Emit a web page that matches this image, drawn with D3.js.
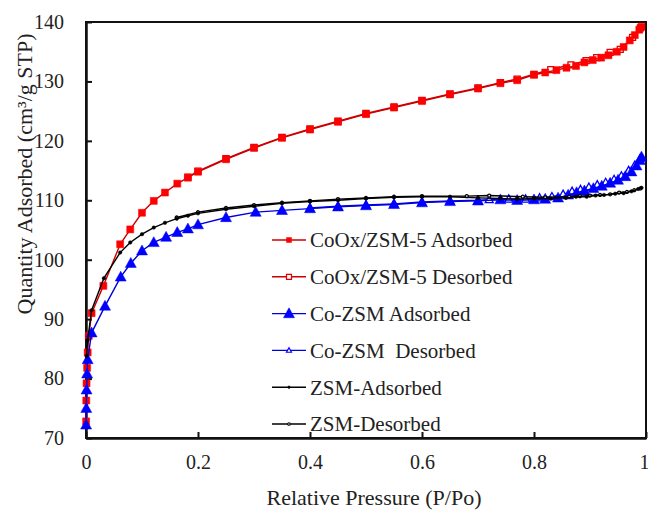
<!DOCTYPE html>
<html>
<head>
<meta charset="utf-8">
<script src="https://cdn.jsdelivr.net/npm/d3@7"></script>
<style>
    body { margin: 0; background: #fff; }
</style>
</head>
<body>
<div id="chart"></div>
<script>
// CoOx/ZSM-5, Co-ZSM and ZSM isotherms, [P/Po, quantity]
var coAds = [[0.0002,72.8],[0.0005,76.3],[0.001,79.2],[0.002,81.8],[0.003,84.4],[0.005,87.2],[0.01,91.0],[0.031,95.6],[0.061,102.6],[0.079,105.1],[0.10,107.9],[0.121,109.9],[0.141,111.3],[0.163,112.8],[0.182,113.8],[0.2,114.8],[0.25,116.9],[0.3,118.8],[0.35,120.5],[0.4,121.9],[0.45,123.2],[0.5,124.5],[0.55,125.6],[0.6,126.7],[0.65,127.8],[0.7,128.8],[0.74,129.7],[0.77,130.2],[0.8,131.1],[0.82,131.5],[0.84,131.9],[0.858,132.3],[0.875,132.6],[0.89,133.2],[0.905,133.6],[0.92,134.0],[0.933,134.4],[0.948,135.0],[0.96,135.8],[0.971,136.9],[0.98,137.8],[0.988,138.7],[0.992,139.2]];
var coDes = [[0.99,139.0],[0.976,137.4],[0.954,135.4],[0.936,134.9],[0.912,134.0],[0.893,133.5],[0.866,132.8],[0.83,132.0],[0.8,131.2],[0.77,130.4],[0.74,129.8],[0.7,128.9],[0.65,127.9],[0.6,126.8],[0.55,125.7],[0.5,124.6],[0.45,123.3],[0.4,122.0],[0.35,120.6],[0.3,118.9],[0.25,117.0],[0.2,114.9],[0.182,113.9]];
var czAds = [[0.0002,72.2],[0.0005,75.0],[0.001,78.1],[0.002,80.8],[0.003,83.2],[0.01,87.7],[0.034,92.2],[0.062,97.1],[0.08,99.4],[0.1,101.5],[0.121,102.9],[0.143,103.8],[0.163,104.6],[0.182,105.2],[0.2,105.9],[0.25,107.1],[0.303,108.0],[0.35,108.3],[0.4,108.6],[0.45,108.9],[0.5,109.1],[0.55,109.3],[0.6,109.6],[0.65,109.8],[0.7,109.9],[0.74,110.1],[0.77,110.0],[0.8,110.1],[0.82,110.2],[0.843,110.4],[0.861,110.9],[0.876,111.3],[0.89,111.6],[0.906,112.0],[0.921,112.4],[0.936,112.9],[0.95,113.4],[0.963,114.0],[0.974,114.8],[0.983,115.8],[0.989,116.7],[0.992,117.3]];
var czDes = [[0.99,117.1],[0.98,115.9],[0.969,115.0],[0.956,114.1],[0.943,113.5],[0.928,113.0],[0.913,112.6],[0.898,112.2],[0.883,111.8],[0.868,111.5],[0.852,111.0],[0.832,110.6],[0.81,110.4],[0.785,110.2],[0.755,110.2],[0.72,110.1],[0.7,110.0],[0.65,109.9],[0.6,109.7],[0.55,109.4],[0.5,109.2],[0.45,109.0],[0.4,108.7]];
var zAds = [[0.001,83.8],[0.003,86.5],[0.01,91.5],[0.032,96.9],[0.061,101.2],[0.079,102.9],[0.1,104.3],[0.121,105.4],[0.141,106.2],[0.162,106.9],[0.182,107.4],[0.2,107.8],[0.25,108.5],[0.3,109.0],[0.35,109.5],[0.4,109.8],[0.45,110.0],[0.5,110.3],[0.55,110.5],[0.6,110.6],[0.65,110.6],[0.7,110.4],[0.74,110.3],[0.77,110.2],[0.8,110.3],[0.83,110.3],[0.857,110.4],[0.875,110.6],[0.894,110.6],[0.91,110.8],[0.925,110.9],[0.945,111.1],[0.96,111.2],[0.974,111.5],[0.986,111.9],[0.992,112.1]];
var zDes = [[0.99,112.0],[0.979,111.7],[0.966,111.4],[0.952,111.3],[0.936,111.0],[0.918,110.9],[0.9,110.8],[0.882,110.7],[0.863,110.6],[0.82,110.5],[0.78,110.6],[0.72,110.8],[0.68,110.7],[0.6,110.7],[0.55,110.6],[0.5,110.4],[0.45,110.2],[0.4,109.9],[0.35,109.6],[0.3,109.2],[0.25,108.7],[0.2,108.0],[0.162,107.1]];

var seriesNames = ["CoOx/ZSM-5 Adsorbed", "CoOx/ZSM-5 Desorbed", "Co-ZSM Adsorbed", "Co-ZSM\u00a0 Desorbed", "ZSM-Adsorbed", "ZSM-Desorbed"];
var xTicks = [0, 0.2, 0.4, 0.6, 0.8, 1];
var yTicks = [70, 80, 90, 100, 110, 120, 130, 140];

var width = 648;
var height = 515;

var margin = {
    top: 22,
    bottom: 77,
    left: 86,
    right: 2,
};

var font = "'Liberation Serif', 'Times New Roman', serif";

var w = width - margin.left - margin.right;
var h = height - margin.top - margin.bottom;

// desorbed branches first so the filled markers sit on top
var series = [
    { name: seriesNames[0], data: coAds, colour: "#ff0000", line: "#cc0000", shape: "square", open: false, size: 7, order: 1 },
    { name: seriesNames[1], data: coDes, colour: "#e00000", line: "#cc0000", shape: "square", open: true, size: 6, order: 0 },
    { name: seriesNames[2], data: czAds, colour: "#0000ff", line: "#0000dd", shape: "triangle", open: false, size: 11, order: 3 },
    { name: seriesNames[3], data: czDes, colour: "#0000ff", line: "#0000dd", shape: "triangle", open: true, size: 8, order: 2 },
    { name: seriesNames[4], data: zAds, colour: "#000", line: "#000", shape: "circle", open: false, size: 7, order: 5 },
    { name: seriesNames[5], data: zDes, colour: "#000", line: "#000", shape: "circle", open: true, size: 6, order: 4 },
];

var x = d3.scaleLinear().domain([0, 1]).range([0, w]);
var y = d3.scaleLinear().domain([70, 140]).range([h, 0]);

var line = d3.line()
    .x(function(d) { return x(d[0]); })
    .y(function(d) { return y(d[1]); });

function markerPath(s, sz) {
    var r = sz / 2;
    if (s.shape === "square") {
        return "M" + (-r) + "," + (-r) + "h" + sz + "v" + sz + "h" + (-sz) + "Z";
    }
    if (s.shape === "triangle") {
        return "M0," + (-r * 1.05) + "L" + r + "," + (r * 0.75) + "L" + (-r) + "," + (r * 0.75) + "Z";
    }
    return "M" + (-r * 0.5) + ",0a" + (r * 0.5) + "," + (r * 0.5) + " 0 1,0 " + r + ",0a" + (r * 0.5) + "," + (r * 0.5) + " 0 1,0 " + (-r) + ",0";
}

var root = d3.select("#chart")
    .append("svg")
    .attr("width", width)
    .attr("height", height)
    .style("font-family", font);

var svg = root.append("g")
    .attr("transform", "translate(" + margin.left + "," + margin.top + ")");

// frame
svg.append("rect")
    .attr("width", w)
    .attr("height", h)
    .attr("fill", "none")
    .attr("stroke", "#111")
    .attr("stroke-width", 2);

var yAxis = svg.append("g")
    .call(d3.axisLeft(y).tickValues(yTicks).tickSizeInner(-6).tickSizeOuter(0).tickPadding(22).tickFormat(d3.format("d")));

var xAxis = svg.append("g")
    .attr("transform", "translate(0," + h + ")")
    .call(d3.axisBottom(x).tickValues(xTicks).tickSizeInner(-6).tickSizeOuter(0).tickPadding(17).tickFormat(function(d) { return d; }));

[xAxis, yAxis].forEach(function(a) {
    a.attr("font-family", font);
    a.select(".domain").attr("stroke", "#111").attr("stroke-width", 2.5);
    a.selectAll(".tick line").attr("stroke", "#111").attr("stroke-width", 2);
    a.selectAll(".tick text").style("font-size", "20px").style("font-family", font).attr("fill", "#222");
});

xAxis.selectAll(".tick text")
    .filter(function(d) { return d === 1; })
    .attr("text-anchor", "end")
    .attr("x", 3);

svg.append("text")
    .attr("x", 374 - margin.left)
    .attr("y", h + 67)
    .attr("text-anchor", "middle")
    .attr("fill", "#222")
    .style("font-family", font)
    .style("font-size", "22px")
    .text("Relative Pressure (P/Po)");

svg.append("text")
    .attr("transform", "translate(" + (24 - margin.left) + "," + (174 - margin.top) + ") rotate(-90)")
    .attr("text-anchor", "middle")
    .attr("dy", "0.35em")
    .attr("fill", "#222")
    .style("font-family", font)
    .style("font-size", "22px")
    .text("Quantity Adsorbed (cm\u00b3/g STP)");

var groups = svg.selectAll("g.series")
    .data(series.slice().sort(function(a, b) { return a.order - b.order; }))
    .enter()
    .append("g")
    .attr("class", "series");

groups.append("path")
    .attr("d", function(s) { return line(s.data); })
    .attr("fill", "none")
    .attr("stroke", function(s) { return s.line; })
    .attr("stroke-width", 1.4);

groups.each(function(s) {
    d3.select(this).selectAll("path.pt")
        .data(s.data)
        .enter()
        .append("path")
        .attr("class", "pt")
        .attr("transform", function(d) { return "translate(" + x(d[0]) + "," + y(d[1]) + ")"; })
        .attr("d", markerPath(s, s.size))
        .attr("fill", s.open ? "#fff" : s.colour)
        .attr("stroke", s.colour)
        .attr("stroke-width", s.open ? 1.3 : 0.5);
});

// legend
var legend = svg.append("g")
    .attr("transform", "translate(" + (272 - margin.left) + "," + (240 - margin.top) + ")");

var item = legend.selectAll("g.item")
    .data(series)
    .enter()
    .append("g")
    .attr("class", "item")
    .attr("transform", function(d, i) { return "translate(0," + (i * 36.8) + ")"; });

item.append("line")
    .attr("x1", 0)
    .attr("x2", 34)
    .attr("stroke", function(s) { return s.line; })
    .attr("stroke-width", 1.4);

item.append("path")
    .attr("transform", "translate(17,0)")
    .attr("d", function(s) { return markerPath(s, s.open ? 5 : (s.shape === "triangle" ? 11 : 5)); })
    .attr("fill", function(s) { return s.open ? "#fff" : s.colour; })
    .attr("stroke", function(s) { return s.colour; })
    .attr("stroke-width", function(s) { return s.open ? 1.2 : 0.5; });

item.append("text")
    .attr("x", 38)
    .attr("dy", "0.35em")
    .attr("fill", "#222")
    .style("font-family", font)
    .style("font-size", "21px")
    .text(function(s) { return s.name; });
</script>
</body>
</html>
